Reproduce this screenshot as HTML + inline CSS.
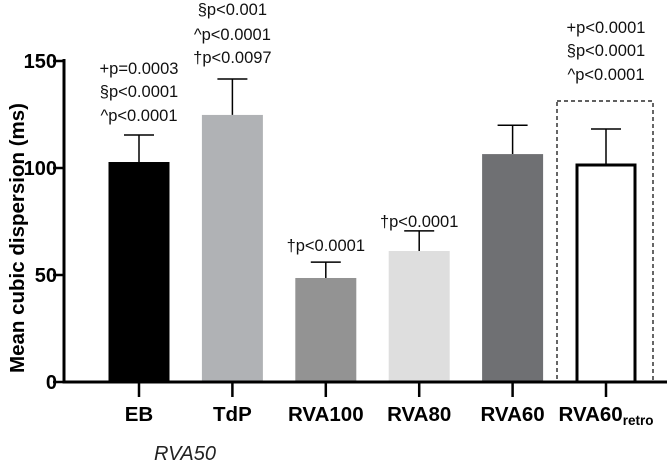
<!DOCTYPE html>
<html><head><meta charset="utf-8"><style>
html,body{margin:0;padding:0;background:#fff;width:671px;height:463px;overflow:hidden}
svg{font-family:"Liberation Sans",Arial,sans-serif}
</style></head><body>
<svg id="chart" width="671" height="463" viewBox="0 0 671 463"></svg>
<script>
const categories=["EB","TdP","RVA100","RVA80","RVA60","RVA60"];
const means=[102.8,124.8,48.6,61.2,106.5,101.4];
const errs=[12.6,16.8,7.4,9.4,13.5,16.8];
const colors=["#000000","#b0b2b5","#939393","#dedede","#6f7073","#ffffff"];
const yTicks=[0,50,100,150];
const annotations=[["+p=0.0003","§p<0.0001","^p<0.0001"],["§p<0.001","^p<0.0001","†p<0.0097"],["†p<0.0001"],["†p<0.0001"],[],["+p<0.0001","§p<0.0001","^p<0.0001"]];
const NS="http://www.w3.org/2000/svg";
const svg=document.getElementById("chart");
const y0=382,pxPer=(382-61)/150;
function yS(v){return y0-v*pxPer;}
function xS(i){return 139+i*93.4;}
const bw=61;
const baseY={0:[74,97,121],1:[15,40,63],2:[251],3:[227],5:[33,56,80]};
function mk(tag,attrs,parent){const e=document.createElementNS(NS,tag);for(const k in attrs)e.setAttribute(k,attrs[k]);(parent||svg).appendChild(e);return e;}
const box=mk("rect",{x:557,y:101,width:96,height:281,fill:"none",stroke:"#000","stroke-width":1.2,"stroke-dasharray":"4,3"});


categories.forEach((c,i)=>{
  const cx=xS(i),top=yS(means[i]),et=yS(means[i]+errs[i]);
  const eb=mk("line",{x1:cx,x2:cx,y1:top,y2:et,stroke:"#000","stroke-width":1.5});
  
  
  const cap=mk("line",{x1:cx-15,x2:cx+15,y1:et,y2:et,stroke:"#000","stroke-width":1.5});
  
  
  const isWhite=colors[i]==="#ffffff";
  const r=mk("rect",{x:cx-bw/2+(isWhite?1.5:0),y:top,width:bw-(isWhite?3:0),height:y0-top,fill:colors[i],stroke:isWhite?"#000":"none","stroke-width":3});
  
  
  const tk=mk("line",{x1:cx,x2:cx,y1:y0,y2:397,stroke:"#000","stroke-width":2.5});
  
  
  const t=mk("text",{x:cx,y:421,"text-anchor":"middle","font-size":20.5,"font-weight":"bold"});
  t.textContent=c;
  if(i===5){const s=mk("tspan",{"font-size":13.5,dy:4},t);s.textContent="retro";}
  
  
  annotations[i].forEach((line,j)=>{
    const at=mk("text",{x:cx,y:baseY[i][j],"text-anchor":"middle","font-size":16.5,fill:"#111"});
    at.textContent=line;
    
    
  });
});
const ya=mk("line",{x1:64,x2:64,y1:59,y2:y0+1.5,stroke:"#000","stroke-width":3});


const xa=mk("line",{x1:62.5,x2:667,y1:y0,y2:y0,stroke:"#000","stroke-width":3});


yTicks.forEach(v=>{
  const l=mk("line",{x1:53,x2:64,y1:yS(v),y2:yS(v),stroke:"#000","stroke-width":2.5});
  
  
  const t=mk("text",{x:57,y:yS(v)+7,"text-anchor":"end","font-size":20,"font-weight":"bold"});
  t.textContent=v;
  
  
});
const yt=mk("text",{x:0,y:0,transform:"translate(24,238) rotate(-90)","text-anchor":"middle","font-size":20.5,"font-weight":"bold"});
yt.textContent="Mean cubic dispersion (ms)";


const r50=mk("text",{x:185,y:460,"text-anchor":"middle","font-size":20,"font-style":"italic",fill:"#222"});
r50.textContent="RVA50";


</script>
</body></html>
